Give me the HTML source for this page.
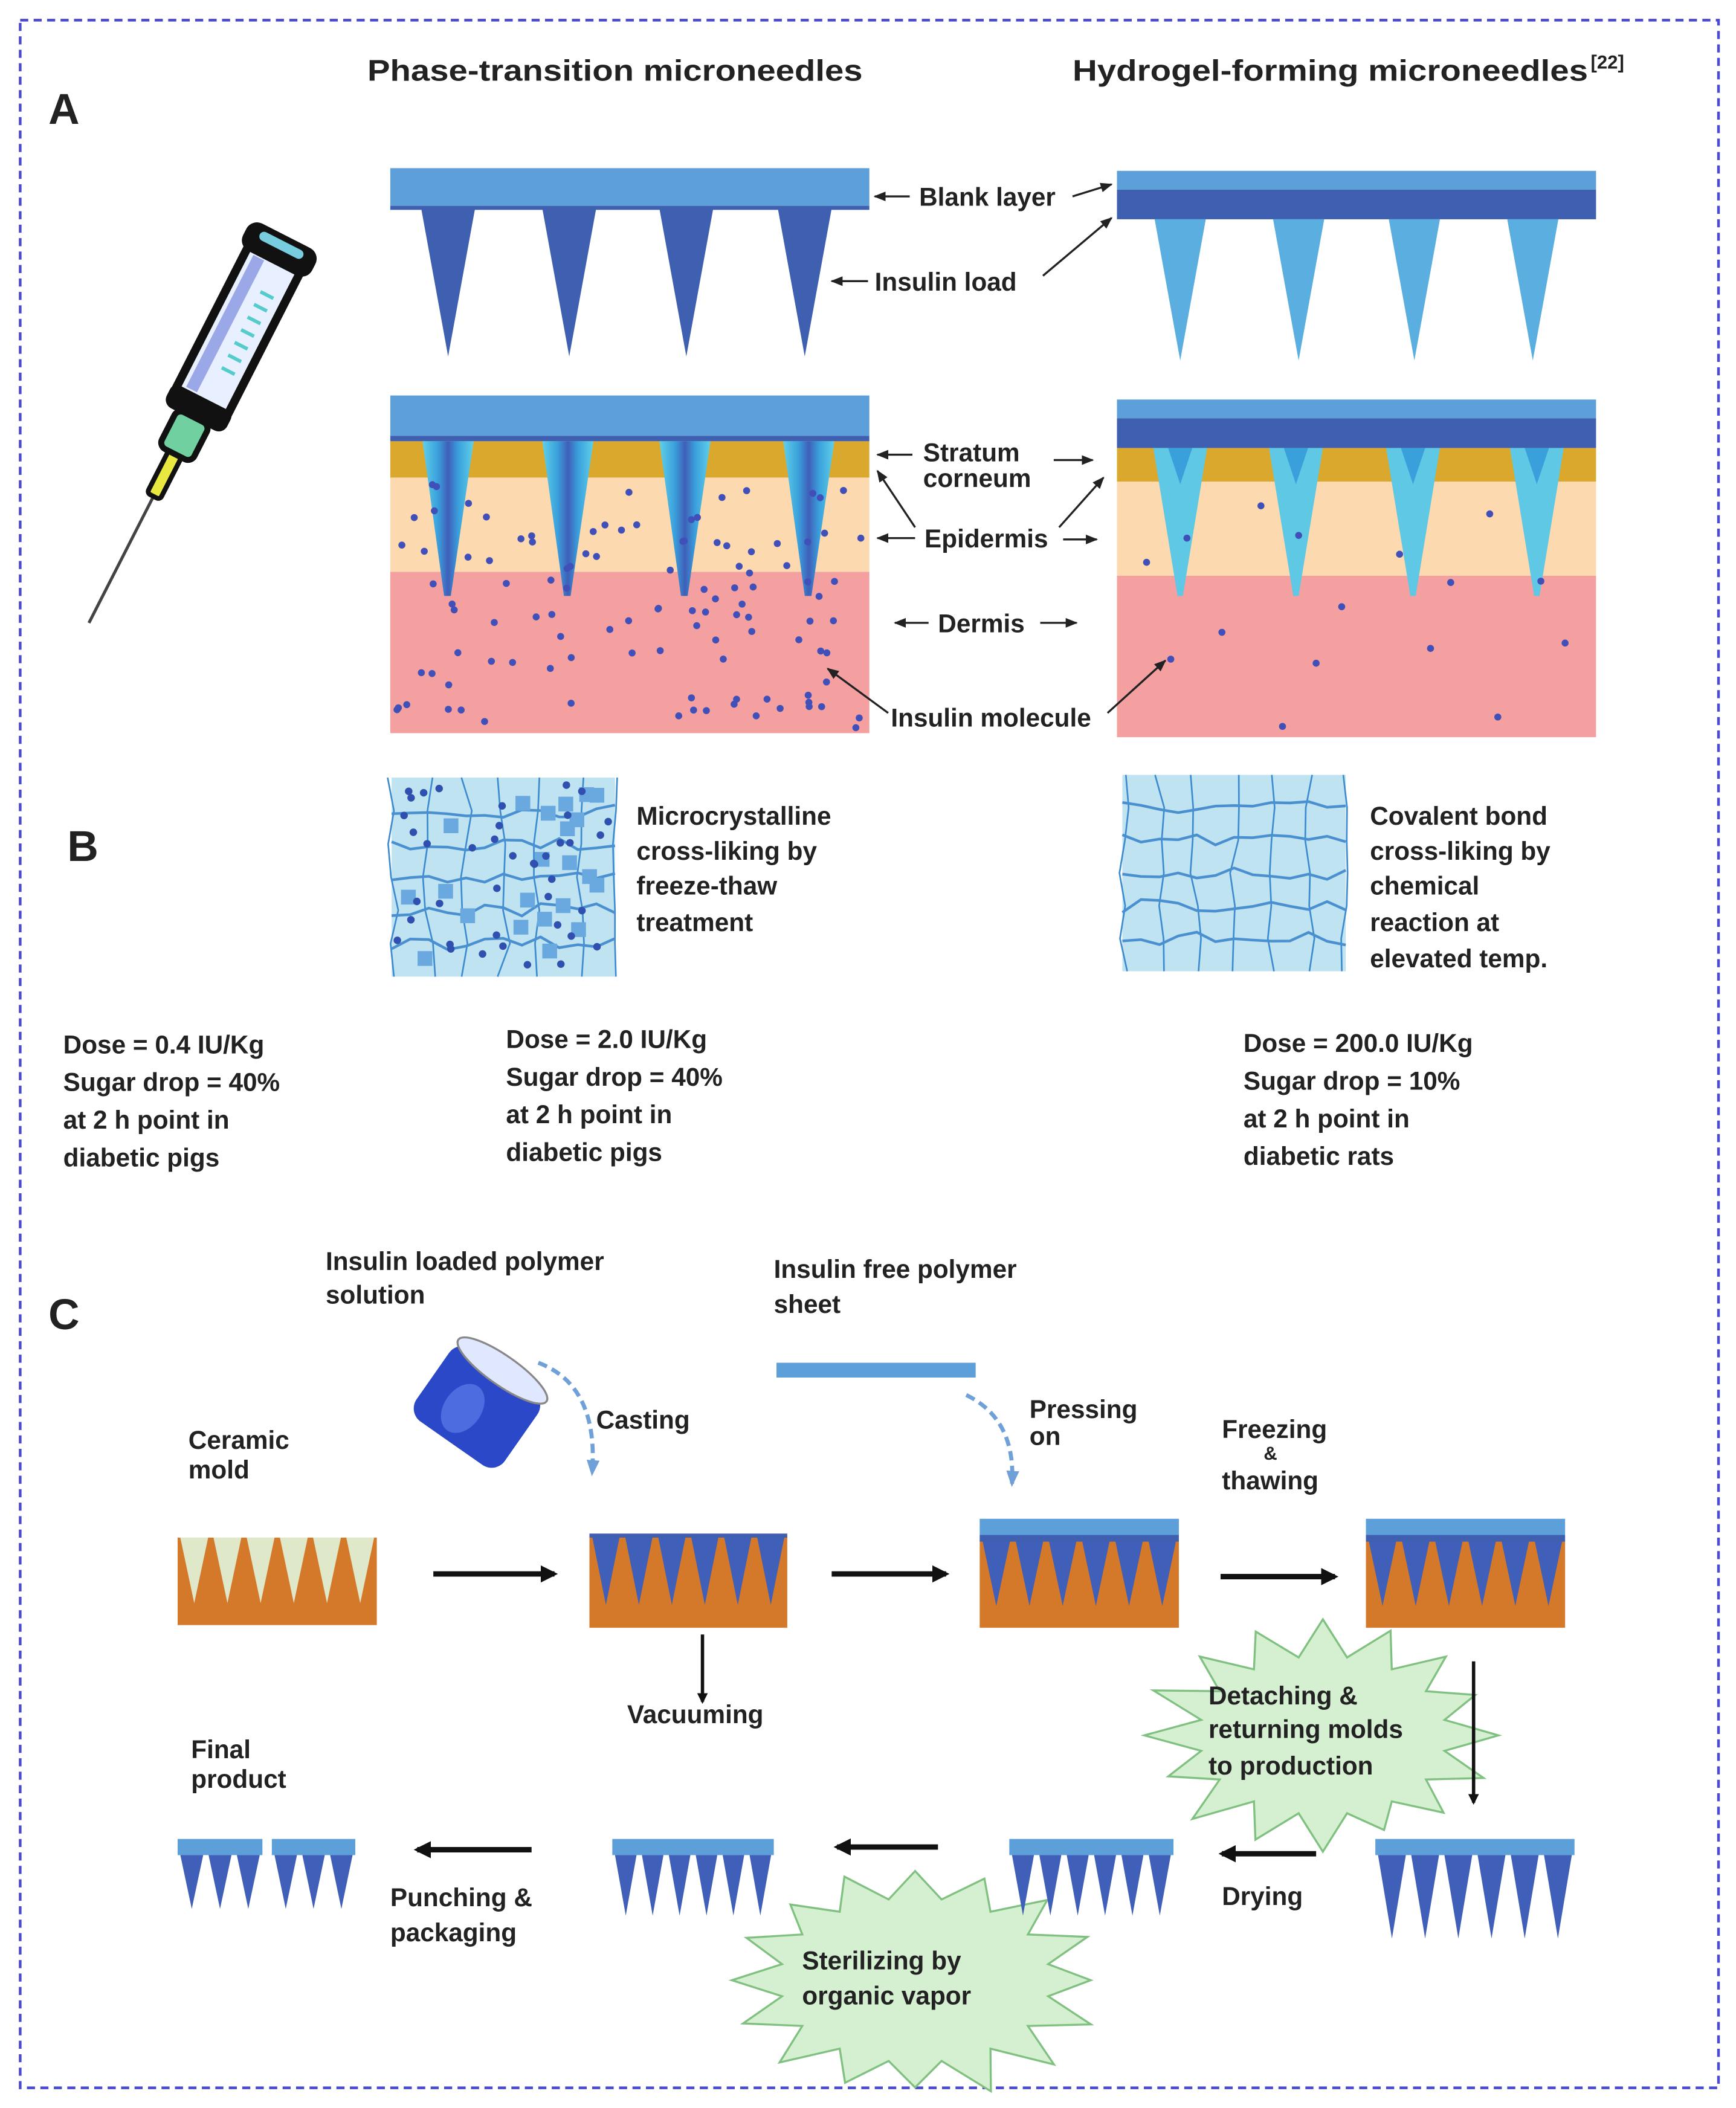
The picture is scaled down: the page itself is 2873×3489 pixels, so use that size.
<!DOCTYPE html>
<html><head><meta charset="utf-8"><style>
html,body{margin:0;padding:0;background:#fff;}
svg{display:block;}
text{font-family:"Liberation Sans",sans-serif;font-weight:bold;fill:#222;}
</style></head><body>
<svg id="s" xmlns="http://www.w3.org/2000/svg" width="2873" height="3489" viewBox="0 0 1290 1567" preserveAspectRatio="none">
<defs>
<marker id="ah" viewBox="0 0 10 10" refX="9" refY="5" markerWidth="6" markerHeight="6" orient="auto"><path d="M0,1 L10,5 L0,9 z" fill="#222"/></marker>
<marker id="bh" viewBox="0 0 10 10" refX="8" refY="5" markerWidth="3.2" markerHeight="3.2" orient="auto"><path d="M0,0 L10,5 L0,10 z" fill="#111"/></marker>
<marker id="dh" viewBox="0 0 10 10" refX="8" refY="5" markerWidth="4" markerHeight="4" orient="auto"><path d="M0,1 L10,5 L0,9 z" fill="#6fa0d8"/></marker>
<linearGradient id="ndl" x1="0" x2="1"><stop offset="0" stop-color="#5fd0e8"/><stop offset="0.3" stop-color="#3aa0dc"/><stop offset="0.5" stop-color="#3f5fb8"/><stop offset="0.7" stop-color="#3aa0dc"/><stop offset="1" stop-color="#5fd0e8"/></linearGradient>
</defs>
<rect x="15" y="15" width="1262" height="1537" fill="none" stroke="#4a4ad0" stroke-width="2" stroke-dasharray="6,4"/>

<text x="273" y="60" font-size="22" textLength="368" lengthAdjust="spacingAndGlyphs">Phase-transition microneedles</text>
<text x="797" y="60" font-size="22" textLength="383" lengthAdjust="spacingAndGlyphs">Hydrogel-forming microneedles</text>
<text x="1182" y="51" font-size="14">[22]</text>
<text x="36" y="92" font-size="32">A</text>
<text x="50" y="640" font-size="32">B</text>
<text x="36" y="988" font-size="32">C</text>

<!-- syringe -->
<g transform="translate(140,318) rotate(27) scale(0.9,0.88)">
<line x1="0" y1="60" x2="0" y2="185" stroke="#444" stroke-width="2.5"/>
<rect x="-6" y="20" width="12" height="45" rx="3" fill="#e8e840" stroke="#111" stroke-width="4"/>
<rect x="-15" y="-10" width="30" height="35" rx="6" fill="#70d0a0" stroke="#111" stroke-width="5"/>
<rect x="-28" y="-30" width="56" height="22" rx="8" fill="#111"/>
<rect x="-24" y="-160" width="48" height="135" fill="#e8f0ff" stroke="#111" stroke-width="7"/>
<rect x="-17" y="-155" width="10" height="125" fill="#9aa8e8"/>
<g stroke="#5cc" stroke-width="3"><line x1="2" y1="-130" x2="14" y2="-130"/><line x1="2" y1="-118" x2="14" y2="-118"/><line x1="2" y1="-106" x2="14" y2="-106"/><line x1="2" y1="-94" x2="14" y2="-94"/><line x1="2" y1="-82" x2="14" y2="-82"/><line x1="2" y1="-70" x2="14" y2="-70"/><line x1="2" y1="-58" x2="14" y2="-58"/></g>
<rect x="-32" y="-182" width="64" height="26" rx="10" fill="#111"/>
<rect x="-20" y="-177" width="40" height="8" rx="4" fill="#7cd"/>
</g>

<!-- top microneedles left -->
<rect x="290" y="125" width="356" height="28" fill="#5d9fd8"/>
<rect x="290" y="153" width="356" height="3" fill="#3f5fb0"/>
<g fill="#3f5fb0">
<polygon points="313,155 353,155 333,265"/><polygon points="403,155 443,155 423,265"/><polygon points="490,155 530,155 510,265"/><polygon points="578,155 618,155 598,265"/>
</g>
<!-- top right -->
<rect x="830" y="127" width="356" height="14" fill="#5d9fd8"/>
<rect x="830" y="141" width="356" height="22" fill="#3f5fb0"/>
<g fill="#5aaee0">
<polygon points="858,163 896,163 877,268"/><polygon points="946,163 984,163 965,268"/><polygon points="1032,163 1070,163 1051,268"/><polygon points="1120,163 1158,163 1139,268"/>
</g>
<text x="683" y="153" font-size="19">Blank layer</text>
<text x="650" y="216" font-size="19">Insulin load</text>
<line x1="676" y1="146" x2="650" y2="146" stroke="#222" stroke-width="1.5" marker-end="url(#ah)"/>
<line x1="645" y1="209" x2="618" y2="209" stroke="#222" stroke-width="1.5" marker-end="url(#ah)"/>
<line x1="797" y1="146" x2="826" y2="137" stroke="#222" stroke-width="1.5" marker-end="url(#ah)"/>
<line x1="775" y1="205" x2="826" y2="162" stroke="#222" stroke-width="1.5" marker-end="url(#ah)"/>

<!-- skin left -->
<rect x="290" y="425" width="356" height="120" fill="#f4a0a0"/>
<rect x="290" y="355" width="356" height="70" fill="#fdd9b0"/>
<rect x="290" y="328" width="356" height="27" fill="#d9a82c"/>
<rect x="290" y="294" width="356" height="30" fill="#5d9fd8"/>
<rect x="290" y="324" width="356" height="4" fill="#3f5fb0"/>
<g fill="url(#ndl)">
<polygon points="314,328 352,328 335,443 330,443"/><polygon points="403,328 441,328 424,443 419,443"/><polygon points="490,328 528,328 511,443 506,443"/><polygon points="582,328 620,328 603,443 598,443"/>
</g>
<g id="dotsL" fill="#4050b8"></g>
<!-- skin right -->
<rect x="830" y="428" width="356" height="120" fill="#f4a0a0"/>
<rect x="830" y="358" width="356" height="70" fill="#fdd9b0"/>
<rect x="830" y="333" width="356" height="25" fill="#d9a82c"/>
<rect x="830" y="297" width="356" height="14" fill="#5d9fd8"/>
<rect x="830" y="311" width="356" height="22" fill="#3f5fb0"/>
<g fill="#5fc8e4">
<polygon points="857,333 897,333 879,443 875,443"/><polygon points="943,333 983,333 965,443 961,443"/><polygon points="1030,333 1070,333 1052,443 1048,443"/><polygon points="1122,333 1162,333 1144,443 1140,443"/>
</g>
<g fill="#3aa0dc"><polygon points="868,333 886,333 877,360"/><polygon points="954,333 972,333 963,360"/><polygon points="1041,333 1059,333 1050,360"/><polygon points="1133,333 1151,333 1142,360"/></g>
<g id="dotsR" fill="#4050b8"></g>

<text x="686" y="343" font-size="19">Stratum</text>
<text x="686" y="362" font-size="19">corneum</text>
<text x="687" y="407" font-size="19">Epidermis</text>
<text x="697" y="470" font-size="19">Dermis</text>
<text x="662" y="540" font-size="19">Insulin molecule</text>
<g stroke="#222" stroke-width="1.5" fill="none">
<line x1="678" y1="338" x2="652" y2="338" marker-end="url(#ah)"/>
<line x1="783" y1="342" x2="812" y2="342" marker-end="url(#ah)"/>
<line x1="680" y1="392" x2="652" y2="350" marker-end="url(#ah)"/>
<line x1="680" y1="400" x2="652" y2="400" marker-end="url(#ah)"/>
<line x1="787" y1="392" x2="820" y2="355" marker-end="url(#ah)"/>
<line x1="790" y1="401" x2="815" y2="401" marker-end="url(#ah)"/>
<line x1="690" y1="463" x2="665" y2="463" marker-end="url(#ah)"/>
<line x1="773" y1="463" x2="800" y2="463" marker-end="url(#ah)"/>
<line x1="660" y1="530" x2="615" y2="497" marker-end="url(#ah)"/>
<line x1="823" y1="530" x2="866" y2="491" marker-end="url(#ah)"/>
</g>

<!-- B networks -->
<rect x="291" y="578" width="166" height="148" fill="#bfe3f0"/>
<g id="netL"></g>
<rect x="834" y="576" width="166" height="146" fill="#bfe3f0"/>
<g id="netR"></g>
<g font-size="19">
<text x="473" y="613">Microcrystalline</text>
<text x="473" y="639">cross-liking by</text>
<text x="473" y="665">freeze-thaw</text>
<text x="473" y="692">treatment</text>
<text x="1018" y="613">Covalent bond</text>
<text x="1018" y="639">cross-liking by</text>
<text x="1018" y="665">chemical</text>
<text x="1018" y="692">reaction at</text>
<text x="1018" y="719">elevated temp.</text>
<text x="47" y="783">Dose = 0.4 IU/Kg</text>
<text x="47" y="811">Sugar drop = 40%</text>
<text x="47" y="839">at 2 h point in</text>
<text x="47" y="867">diabetic pigs</text>
<text x="376" y="779">Dose = 2.0 IU/Kg</text>
<text x="376" y="807">Sugar drop = 40%</text>
<text x="376" y="835">at 2 h point in</text>
<text x="376" y="863">diabetic pigs</text>
<text x="924" y="782">Dose = 200.0 IU/Kg</text>
<text x="924" y="810">Sugar drop = 10%</text>
<text x="924" y="838">at 2 h point in</text>
<text x="924" y="866">diabetic rats</text>

<text x="242" y="944">Insulin loaded polymer</text>
<text x="242" y="969">solution</text>
<text x="575" y="950">Insulin free polymer</text>
<text x="575" y="976">sheet</text>
<text x="443" y="1062">Casting</text>
<text x="765" y="1054">Pressing</text>
<text x="765" y="1074">on</text>
<text x="908" y="1069">Freezing</text>
<text x="939" y="1085" font-size="14">&amp;</text>
<text x="908" y="1107">thawing</text>
<text x="140" y="1077">Ceramic</text>
<text x="140" y="1099">mold</text>
<text x="466" y="1281">Vacuuming</text>
<text x="142" y="1307">Final</text>
<text x="142" y="1329">product</text>
<text x="290" y="1417">Punching &amp;</text>
<text x="290" y="1443">packaging</text>
<text x="908" y="1416">Drying</text>
</g>

<rect x="577" y="1013" width="148" height="11" fill="#5d9fd8"/>
<!-- beaker -->
<g transform="translate(355,1045) rotate(35)">
<rect x="-40" y="-32" width="80" height="66" rx="12" fill="#2a48c8"/>
<ellipse cx="0" cy="-32" rx="40" ry="11" fill="#dfe8ff" stroke="#888" stroke-width="1.5"/>
<ellipse cx="-8" cy="8" rx="14" ry="20" fill="#4c6ce0"/>
</g>
<path d="M400,1013 Q445,1030 440,1095" fill="none" stroke="#6fa0d8" stroke-width="3" stroke-dasharray="7,4" marker-end="url(#dh)"/>
<path d="M718,1037 Q755,1055 752,1103" fill="none" stroke="#6fa0d8" stroke-width="3" stroke-dasharray="7,4" marker-end="url(#dh)"/>

<path id="star1" fill="#d4f0d0" stroke="#80c080" stroke-width="1.5"/>
<path id="star2" fill="#d4f0d0" stroke="#80c080" stroke-width="1.5"/>
<g id="molds"></g>

<g stroke="#111" stroke-width="4" fill="none">
<line x1="322" y1="1170" x2="412" y2="1170" marker-end="url(#bh)"/>
<line x1="618" y1="1170" x2="703" y2="1170" marker-end="url(#bh)"/>
<line x1="907" y1="1172" x2="992" y2="1172" marker-end="url(#bh)"/>
<line x1="395" y1="1375" x2="310" y2="1375" marker-end="url(#bh)"/>
<line x1="697" y1="1373" x2="622" y2="1373" marker-end="url(#bh)"/>
<line x1="978" y1="1378" x2="908" y2="1378" marker-end="url(#bh)"/>
<line x1="522" y1="1215" x2="522" y2="1265" stroke-width="2.5" marker-end="url(#bh)"/>
<line x1="1095" y1="1235" x2="1095" y2="1340" stroke-width="2.5" marker-end="url(#bh)"/>
</g>
<g font-size="19">
<text x="898" y="1267">Detaching &amp;</text>
<text x="898" y="1292">returning molds</text>
<text x="898" y="1319">to production</text>
<text x="596" y="1464">Sterilizing by</text>
<text x="596" y="1490">organic vapor</text>
</g>
</svg>
<script>
var NS="http://www.w3.org/2000/svg";
function el(p,t,a){var e=document.createElementNS(NS,t);for(var k in a)e.setAttribute(k,a[k]);p.appendChild(e);return e;}
var seed=7;function r(){seed=(seed*16807)%2147483647;return seed/2147483647;}
var gL=document.getElementById('dotsL');
for(var i=0;i<110;i++){var x=295+r()*346,y=360+r()*182;el(gL,'circle',{cx:x,cy:y,r:2.6});}
var gR=document.getElementById('dotsR');
var pr=[[852,418],[882,400],[937,376],[965,398],[1040,412],[1107,382],[1145,432],[1078,433],[997,451],[908,470],[870,490],[978,493],[1063,482],[1163,478],[953,540],[1113,533]];
pr.forEach(function(p){el(gR,'circle',{cx:p[0],cy:p[1],r:2.6});});
function net(g,x0,y0,w,h,dots){
 var cols=6,rows=6;
 for(var c=0;c<=cols;c++){var d='';for(var k=0;k<=rows;k++){var x=x0+c*w/cols+(r()-0.5)*10,y=y0+k*h/rows;d+=(k?'L':'M')+x+','+y;}el(g,'path',{d:d,fill:'none',stroke:'#3c8ad0','stroke-width':1.2});}
 for(var k=1;k<rows;k++){var d='';for(var c=0;c<=cols*2;c++){var x=x0+c*w/(cols*2),y=y0+k*h/rows+(r()-0.5)*10;d+=(c?'L':'M')+x+','+y;}el(g,'path',{d:d,fill:'none',stroke:'#4a90d0','stroke-width':2});}
 if(dots){for(var i=0;i<22;i++)el(g,'rect',{x:x0+r()*(w-12),y:y0+r()*(h-12),width:11,height:11,fill:'#6aa8e0'});
 for(var i=0;i<40;i++)el(g,'circle',{cx:x0+4+r()*(w-8),cy:y0+4+r()*(h-8),r:2.8,fill:'#3050b0'});}
}
net(document.getElementById('netL'),291,578,166,148,true);
net(document.getElementById('netR'),834,576,166,146,false);
var M=document.getElementById('molds');
function mold(x,y,w,h,fillTri,top){
 el(M,'rect',{x:x,y:y,width:w,height:h,fill:'#d4782a'});
 var n=6,tw=w/n;
 for(var i=0;i<n;i++)el(M,'polygon',{points:(x+i*tw+2)+','+y+' '+(x+(i+1)*tw-2)+','+y+' '+(x+(i+0.5)*tw)+','+(y+h*0.75),fill:fillTri});
 if(top==1)el(M,'rect',{x:x,y:y-2,width:w,height:3,fill:'#3f5fb0'});
 if(top==2){el(M,'rect',{x:x,y:y-16,width:w,height:12,fill:'#5d9fd8'});el(M,'rect',{x:x,y:y-4,width:w,height:5,fill:'#3f5fb0'});}
}
mold(132,1143,148,65,'#dfe8c8',0);
mold(438,1142,147,68,'#3f5fb8',1);
mold(728,1145,148,65,'#3f5fb8',2);
mold(1015,1145,148,65,'#3f5fb8',2);
function prod(x,y,w,n,len){
 el(M,'rect',{x:x,y:y,width:w,height:12,fill:'#5d9fd8'});
 var tw=w/n;
 for(var i=0;i<n;i++)el(M,'polygon',{points:(x+i*tw+2)+','+(y+12)+' '+(x+(i+1)*tw-2)+','+(y+12)+' '+(x+(i+0.5)*tw)+','+(y+12+len),fill:'#3f5fb8'});
}
prod(132,1367,63,3,40);prod(202,1367,62,3,40);
prod(455,1367,120,6,45);prod(750,1367,122,6,45);prod(1022,1367,148,6,62);
function star(id,cx,cy,rx,ry,n){var d='';for(var i=0;i<2*n;i++){var a=i*Math.PI/n-Math.PI/2,f=i%2?0.72:1+(r()-0.5)*0.15;d+=(i?'L':'M')+(cx+Math.cos(a)*rx*f)+','+(cy+Math.sin(a)*ry*f);}document.getElementById(id).setAttribute('d',d+'Z');}
star('star1',983,1290,128,82,16);
star('star2',680,1472,140,85,16);
</script>
</body></html>
